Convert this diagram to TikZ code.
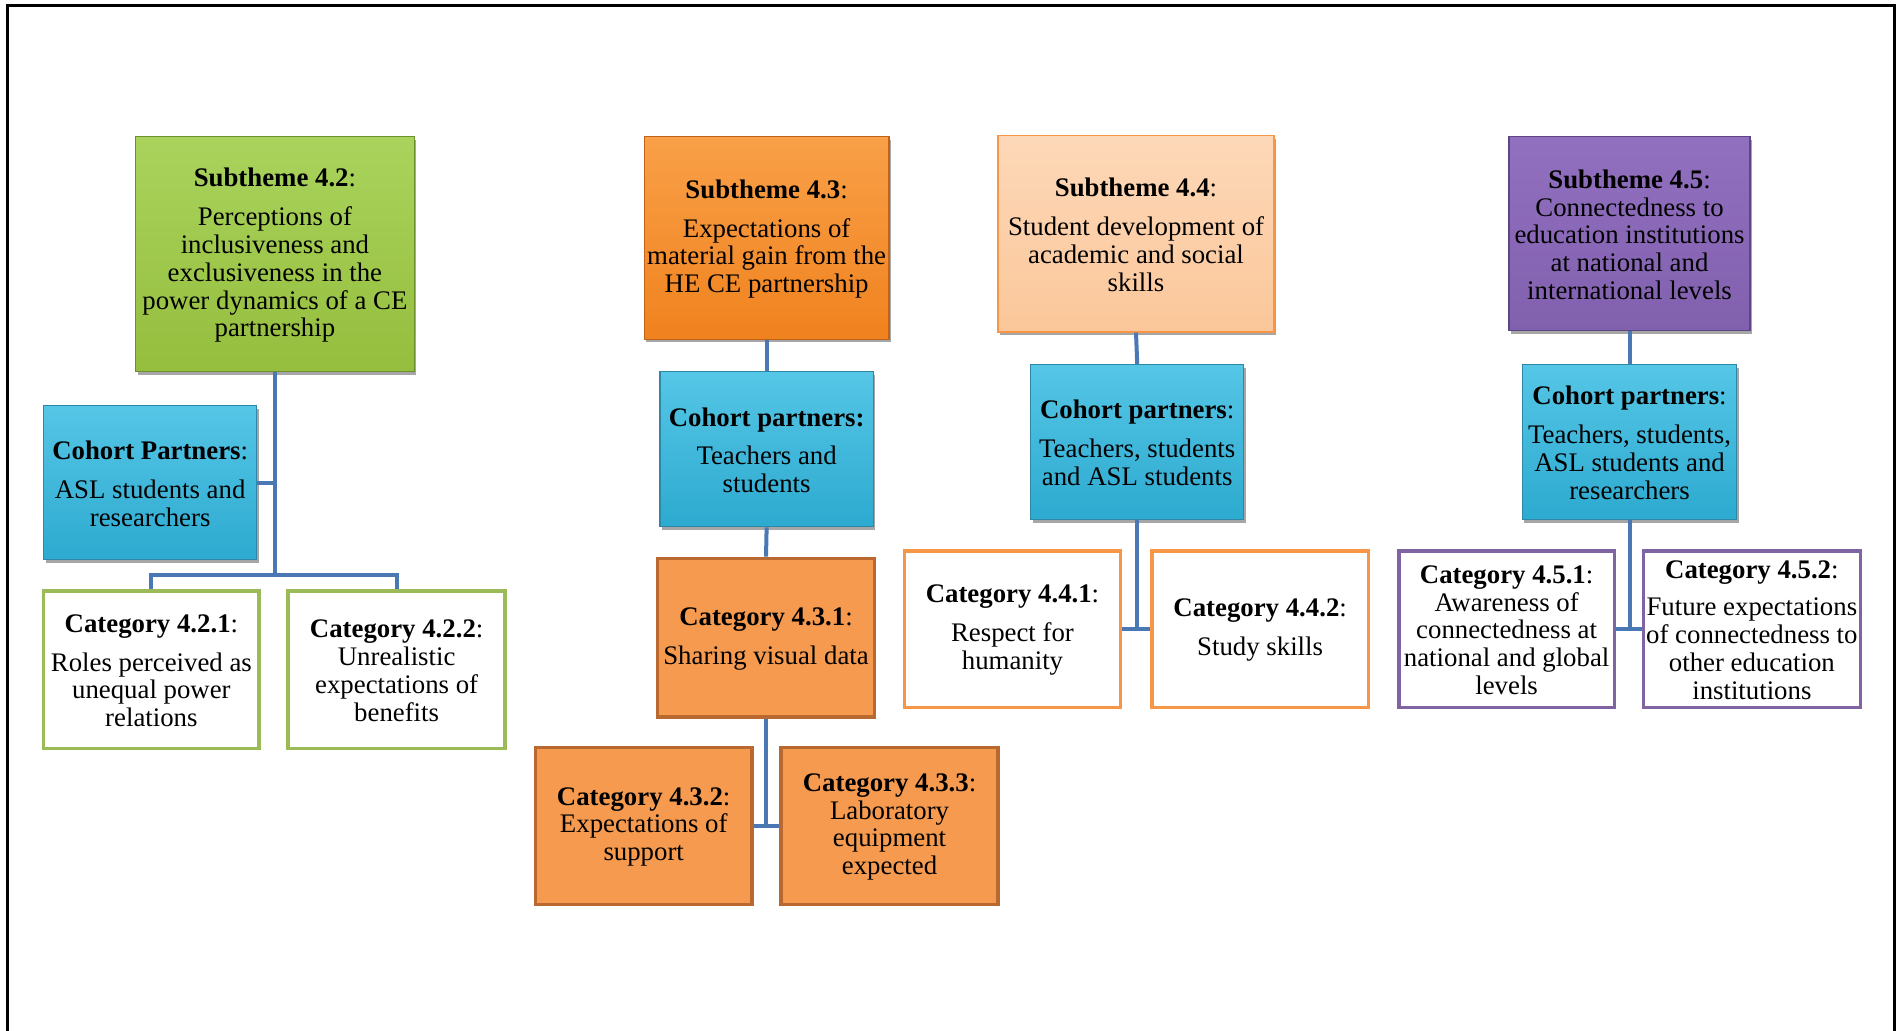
\documentclass[tikz,border=0pt]{standalone}
\usepackage{fontspec}
\setmainfont{Liberation Serif}
\usetikzlibrary{fit,shadows}
\definecolor{grnA}{HTML}{A9D35C}
\definecolor{grnB}{HTML}{95BE3E}
\definecolor{grnD}{HTML}{6E8F2E}
\definecolor{grnE}{HTML}{9BBB59}
\definecolor{bluA}{HTML}{55C6E6}
\definecolor{bluB}{HTML}{2DAAD0}
\definecolor{bluD}{HTML}{2C88A6}
\definecolor{orA}{HTML}{F9A048}
\definecolor{orB}{HTML}{F0821E}
\definecolor{orD}{HTML}{C0621A}
\definecolor{orC}{HTML}{F59A4E}
\definecolor{orCD}{HTML}{B9692F}
\definecolor{pchA}{HTML}{FDD8B8}
\definecolor{pchB}{HTML}{FBC79A}
\definecolor{pchD}{HTML}{F79646}
\definecolor{purA}{HTML}{9270C0}
\definecolor{purB}{HTML}{8160AE}
\definecolor{purD}{HTML}{5E4682}
\definecolor{purE}{HTML}{8064A2}
\definecolor{conC}{HTML}{4A78B4}
\tikzset{
  base/.style={inner sep=0pt},
  txt/.style={inner sep=0pt, align=center, font=\fontsize{26.8}{27.85}\selectfont, yshift=-1pt},
  bevel/.style={base, drop shadow={shadow xshift=2pt, shadow yshift=-3pt, opacity=0.35, fill=black}},
  subgrn/.style={bevel, top color=grnA, bottom color=grnB, draw=grnD, line width=1.2pt},
  subor/.style={bevel, top color=orA, bottom color=orB, draw=orD, line width=1.2pt},
  subpch/.style={bevel, top color=pchA, bottom color=pchB, draw=pchD, line width=1.5pt},
  subpur/.style={bevel, top color=purA, bottom color=purB, draw=purD, line width=1.2pt},
  cohort/.style={bevel, top color=bluA, bottom color=bluB, draw=bluD, line width=1.2pt},
  catgrn/.style={base, fill=white, draw=grnE, line width=3.5pt},
  cator/.style={base, fill=orC, draw=orCD, line width=3.5pt},
  catpch/.style={base, fill=white, draw=pchD, line width=3.5pt},
  catpur/.style={base, fill=white, draw=purE, line width=3.5pt},
  conn/.style={draw=conC, line width=4pt},
  frame/.style={draw=black, line width=3pt}
}
\begin{document}
\begin{tikzpicture}[x=1.2111pt,y=-1.2111pt]
\useasboundingbox (0,0) rectangle (1568,851);
\draw[frame] (6.6,860) -- (6.6,4.2) -- (1564.5,4.2) -- (1564.5,860);

% group 4.2
\node[subgrn, fit={(112,113) (342,307)}] (s42) {};
\node[txt] (ts42) at (s42.center) {\textbf{Subtheme 4.2}:\\[11pt]Perceptions of\\inclusiveness and\\exclusiveness  in the\\power dynamics  of a CE\\partnership};
\node[cohort, fit={(36,335) (212,462)}] (c42) {};
\node[txt] (tc42) at (c42.center) {\textbf{Cohort Partners}:\\[11pt]ASL  students and\\researchers};
\node[catgrn, fit={(36,488) (214,618)}] (k421) {};
\node[txt] (tk421) at (k421.center) {\textbf{Category 4.2.1}:\\[11pt]Roles perceived as\\unequal power\\relations};
\node[catgrn, fit={(238,488) (417,618)}] (k422) {};
\node[txt] (tk422) at (k422.center) {\textbf{Category 4.2.2}:\\Unrealistic\\expectations of\\benefits};
\coordinate (j42) at (227,475);
\draw[conn] (s42.south) -- (j42);
\draw[conn] (c42.east) -- (c42.east -| j42);
\draw[conn] (k421.north) -- (k421.north |- j42) -- (k422.north |- j42) -- (k422.north);

% group 4.3
\node[subor, fit={(532,113) (734,280)}] (s43) {};
\node[txt] (ts43) at (s43.center) {\textbf{Subtheme 4.3}:\\[11pt]Expectations of\\material gain  from the\\HE CE partnership};
\node[cohort, fit={(545,307) (721,435)}] (c43) {};
\node[txt] (tc43) at (c43.center) {\textbf{Cohort partners:}\\[11pt]Teachers  and\\students};
\node[cator, fit={(543,461) (722,592)}] (k431) {};
\node[txt] (tk431) at (k431.center) {\textbf{Category 4.3.1}:\\[11pt]Sharing  visual data};
\node[cator, fit={(442,617) (621,747)}] (k432) {};
\node[txt] (tk432) at (k432.center) {\textbf{Category 4.3.2}:\\Expectations of\\support};
\node[cator, fit={(645,617) (824,747)}] (k433) {};
\node[txt] (tk433) at (k433.center) {\textbf{Category 4.3.3}:\\Laboratory\\equipment\\expected};
\draw[conn] (s43.south) -- (c43.north);
\draw[conn] (c43.south) -- (k431.north);
\draw[conn] (k431.south) -- (k431.south |- k432.east);
\draw[conn] (k432.east) -- (k433.west);

% group 4.4
\node[subpch, fit={(824,112) (1052,274)}] (s44) {};
\node[txt] (ts44) at (s44.center) {\textbf{Subtheme 4.4}:\\[11pt]Student development of\\academic and social\\skills};
\node[cohort, fit={(851,301) (1027,429)}] (c44) {};
\node[txt] (tc44) at (c44.center) {\textbf{Cohort partners}:\\[11pt]Teachers,  students\\and ASL  students};
\node[catpch, fit={(747,455) (925,584)}] (k441) {};
\node[txt] (tk441) at (k441.center) {\textbf{Category 4.4.1}:\\[11pt]Respect for\\humanity};
\node[catpch, fit={(951,455) (1130,584)}] (k442) {};
\node[txt] (tk442) at (k442.center) {\textbf{Category 4.4.2}:\\[11pt]Study skills};
\draw[conn] (s44.south) -- (c44.north);
\draw[conn] (c44.south) -- (c44.south |- k441.east);
\draw[conn] (k441.east) -- (k442.west);

% group 4.5
\node[subpur, fit={(1246,113) (1445,273)}] (s45) {};
\node[txt] (ts45) at (s45.center) {\textbf{Subtheme 4.5}:\\Connectedness to\\education institutions\\at national and\\international levels};
\node[cohort, fit={(1257,301) (1434,429)}] (c45) {};
\node[txt] (tc45) at (c45.center) {\textbf{Cohort partners}:\\[11pt]Teachers,  students,\\ASL  students and\\researchers};
\node[catpur, fit={(1155,455) (1333,584)}] (k451) {};
\node[txt] (tk451) at (k451.center) {\textbf{Category 4.5.1}:\\Awareness  of\\connectedness  at\\national and  global\\levels};
\node[catpur, fit={(1357,455) (1536,584)}] (k452) {};
\node[txt] (tk452) at (k452.center) {\textbf{Category 4.5.2}:\\[9pt]Future expectations\\of connectedness to\\other education\\institutions};
\draw[conn] (s45.south) -- (c45.north);
\draw[conn] (c45.south) -- (c45.south |- k451.east);
\draw[conn] (k451.east) -- (k452.west);
\end{tikzpicture}
\end{document}
